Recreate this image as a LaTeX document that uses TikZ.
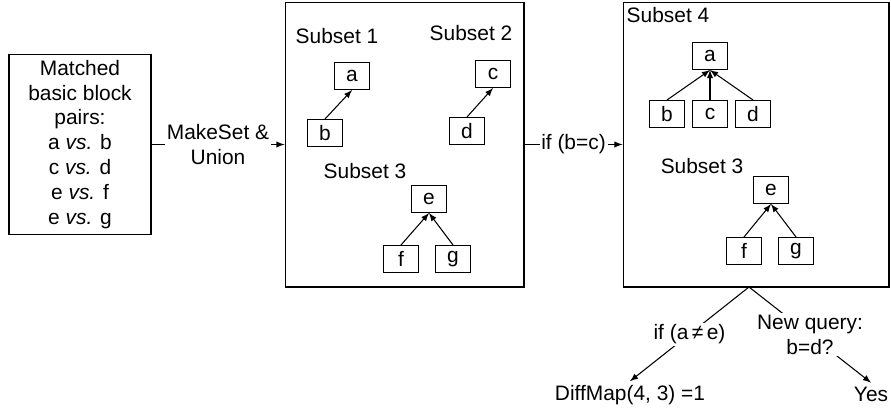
\documentclass[tikz,border=0pt]{standalone}
\usepackage{fontspec}
\setmainfont{Liberation Sans}
\usepackage{tikz}
\usetikzlibrary{arrows}
\usetikzlibrary{positioning}

\tikzset{
  blk/.style={draw, minimum width=0.7cm, minimum height=0.54cm, inner sep=0pt},
  panel/.style={draw, minimum height=5.7cm},
  lbl/.style={fill=white, inner sep=1pt, align=center},
}

\begin{document}
\begin{tikzpicture}[x=0.02cm, y=-0.02cm, line width=0.6pt, >=latex,
    font=\fontsize{11.9}{14.2}\selectfont]
        \useasboundingbox (0,0) rectangle (891,416);

        % Input pairs and the two panels
        \node[draw, minimum width=2.84cm, minimum height=3.6cm, align=center] (pairs) at (80,144.5)
            {Matched\\basic block\\pairs:\\a \textit{vs.} b\\c \textit{vs.} d\\e \textit{vs.} f\\e \textit{vs.} g};
        \node[panel, minimum width=4.78cm] (setsA) at (404.5,144.5) {};
        \node[panel, minimum width=5.32cm] (setsB) at (756,144.5) {};

        \draw[->] (pairs) -- node[lbl] {MakeSet \&\\Union} (setsA);
        \draw[->] (setsA) -- node[lbl] {if (b=c)} (setsB);

        % Subsets after MakeSet
        \node at (337,36) {Subset 1};
        \node at (471,33) {Subset 2};
        \node at (365,171) {Subset 3};
        \node[blk] (a1) at (352,76) {a};
        \node[blk] (b1) at (325,133) {b};
        \node[blk] (c1) at (493,74) {c};
        \node[blk] (d1) at (467,131) {d};
        \node[blk] (e1) at (429,199) {e};
        \node[blk] (f1) at (401,259) {f};
        \node[blk] (g1) at (453,259) {g};
        \draw[->] (b1.north) -- (a1.south);
        \draw[->] (d1.north) -- (c1.south);
        \draw[->] (f1.north) -- (e1.south);
        \draw[->] (g1.north) -- (e1.south);

        % Subsets after the union
        \node at (668,15) {Subset 4};
        \node at (702,166) {Subset 3};
        \node[blk] (a2) at (710,56) {a};
        \node[blk] (b2) at (667,114) {b};
        \node[blk] (c2) at (710,114) {c};
        \node[blk] (d2) at (753,114) {d};
        \node[blk] (e2) at (771,190) {e};
        \node[blk] (f2) at (744,251) {f};
        \node[blk] (g2) at (796,251) {g};
        \draw[->] (b2.north) -- (a2.south);
        \draw[->] (c2.north) -- (a2.south);
        \draw[->] (d2.north) -- (a2.south);
        \draw[->] (f2.north) -- (e2.south);
        \draw[->] (g2.north) -- (e2.south);

        % Queries
        \coordinate (fork) at (749,287);
        \node[inner sep=2pt] (diff) at (630,395) {DiffMap(4, 3) =1};
        \node[inner sep=2pt] (yes) at (871,394) {Yes};
        \draw[->] (fork) -- node[lbl] {if (a\,≠\,e)} (diff.north);
        \draw[->] (fork) -- node[lbl] {New query:\\b=d?} (yes.north);
    \end{tikzpicture}
\end{document}
